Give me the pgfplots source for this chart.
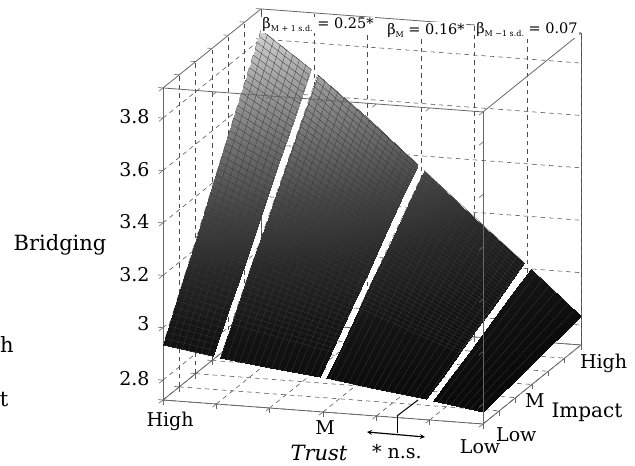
\documentclass[border=0pt]{standalone}
\usepackage{pgfplots}
\pgfplotsset{compat=1.18}
\usepackage{fontspec}
\setmainfont{DejaVu Serif}
\newcommand{\tl}[3]{\makebox[0pt]{\hspace{#1}\hspace{#1}\raisebox{#2}[0pt][0pt]{#3}}}
\begin{document}
\begin{tikzpicture}[x=1pt,y=1pt]
\begin{axis}[
  x={(53.33pt,-4pt)}, y={(16.33pt,13.17pt)}, z={(0pt,262pt)},
  xmin=0,xmax=6,ymin=0,ymax=6,zmin=2.724,zmax=3.915,
  3d box=complete,
  grid=major,
  grid style={dash pattern=on 4.5pt off 4pt,black!70,line width=0.55pt},
  axis line style={black!60,line width=0.8pt},
  tick style={black!60,line width=0.6pt},
  major tick length=5pt,
  tick align=outside,
  tick pos=left,
  xtick={0,1,2,3,4,5,6},
  ytick={0,1,2,3,4,5,6},
  ztick={2.8,3,3.2,3.4,3.6,3.8},
  zticklabels={2.8,3,3.2,3.4,3.6,3.8},
  xticklabels={\tl{11pt}{-23pt}{High},,,\tl{6pt}{-19pt}{M},,,\tl{1pt}{-26pt}{Low}},
  yticklabels={,\tl{12pt}{-30pt}{Low},,\tl{-2pt}{-23pt}{M},,\tl{34pt}{-10pt}{High},},
  tick label style={font=\fontsize{19}{21}\selectfont},
  x tick label style={anchor=center},
  y tick label style={anchor=center},
  z tick label style={yshift=10pt,xshift=-6pt},
  /pgf/number format/assume math mode=true,
  clip=false,
  colormap={g}{gray(0cm)=(0.04); gray(1cm)=(0.08); gray(2cm)=(0.16); gray(3cm)=(0.28); gray(4cm)=(0.44); gray(5cm)=(0.63); gray(6cm)=(0.85)},
  point meta min=2.8, point meta max=3.85,
]
\addplot3[surf,shader=interp,mesh/rows=7,mesh/cols=2] table {
0 0 2.934
0.94 0 2.905
0 1 3.084
0.94 1 3.037
0 2 3.234
0.94 2 3.170
0 3 3.385
0.94 3 3.302
0 4 3.535
0.94 4 3.434
0 5 3.685
0.94 5 3.567
0 6 3.835
0.94 6 3.699
};
\addplot3[surf,shader=interp,mesh/rows=7,mesh/cols=3] table {
1.06 0 2.901
2 0 2.878
2.94 0 2.855
1.06 1 3.031
2 1 2.987
2.94 1 2.940
1.06 2 3.161
2 2 3.095
2.94 2 3.025
1.06 3 3.291
2 3 3.204
2.94 3 3.111
1.06 4 3.420
2 4 3.313
2.94 4 3.196
1.06 5 3.550
2 5 3.421
2.94 5 3.281
1.06 6 3.680
2 6 3.530
2.94 6 3.366
};
\addplot3[surf,shader=interp,mesh/rows=7,mesh/cols=3] table {
3.06 0 2.853
4 0 2.827
4.94 0 2.802
3.06 1 2.935
4 1 2.886
4.94 1 2.838
3.06 2 3.017
4 2 2.945
4.94 2 2.875
3.06 3 3.099
4 3 3.004
4.94 3 2.911
3.06 4 3.181
4 4 3.062
4.94 4 2.947
3.06 5 3.263
4 5 3.121
4.94 5 2.984
3.06 6 3.345
4 6 3.180
4.94 6 3.020
};
\addplot3[surf,shader=interp,mesh/rows=7,mesh/cols=2] table {
5.06 0 2.798
6 0 2.770
5.06 1 2.832
6 1 2.781
5.06 2 2.865
6 2 2.792
5.06 3 2.899
6 3 2.803
5.06 4 2.932
6 4 2.813
5.06 5 2.966
6 5 2.824
5.06 6 2.999
6 6 2.835
};
% mesh lines, patch 1, along Trust
\addplot3[no marks,black!78,line width=0.3pt] table {
0 0 2.934
0.94 0 2.905
0.94 0.12 2.921
0 0.12 2.952
0 0.24 2.970
0.94 0.24 2.937
0.94 0.36 2.953
0 0.36 2.988
0 0.48 3.006
0.94 0.48 2.969
0.94 0.60 2.984
0 0.60 3.024
0 0.72 3.042
0.94 0.72 3.000
0.94 0.84 3.016
0 0.84 3.060
0 0.96 3.078
0.94 0.96 3.032
0.94 1.08 3.048
0 1.08 3.096
0 1.20 3.114
0.94 1.20 3.064
0.94 1.32 3.080
0 1.32 3.132
0 1.44 3.150
0.94 1.44 3.096
0.94 1.56 3.111
0 1.56 3.168
0 1.68 3.186
0.94 1.68 3.127
0.94 1.80 3.143
0 1.80 3.204
0 1.92 3.222
0.94 1.92 3.159
0.94 2.04 3.175
0 2.04 3.240
0 2.16 3.258
0.94 2.16 3.191
0.94 2.28 3.207
0 2.28 3.276
0 2.40 3.294
0.94 2.40 3.223
0.94 2.52 3.238
0 2.52 3.312
0 2.64 3.330
0.94 2.64 3.254
0.94 2.76 3.270
0 2.76 3.348
0 2.88 3.366
0.94 2.88 3.286
0.94 3.00 3.302
0 3.00 3.385
0 3.12 3.403
0.94 3.12 3.318
0.94 3.24 3.334
0 3.24 3.421
0 3.36 3.439
0.94 3.36 3.350
0.94 3.48 3.366
0 3.48 3.457
0 3.60 3.475
0.94 3.60 3.381
0.94 3.72 3.397
0 3.72 3.493
0 3.84 3.511
0.94 3.84 3.413
0.94 3.96 3.429
0 3.96 3.529
0 4.08 3.547
0.94 4.08 3.445
0.94 4.20 3.461
0 4.20 3.565
0 4.32 3.583
0.94 4.32 3.477
0.94 4.44 3.493
0 4.44 3.601
0 4.56 3.619
0.94 4.56 3.508
0.94 4.68 3.524
0 4.68 3.637
0 4.80 3.655
0.94 4.80 3.540
0.94 4.92 3.556
0 4.92 3.673
0 5.04 3.691
0.94 5.04 3.572
0.94 5.16 3.588
0 5.16 3.709
0 5.28 3.727
0.94 5.28 3.604
0.94 5.40 3.620
0 5.40 3.745
0 5.52 3.763
0.94 5.52 3.635
0.94 5.64 3.651
0 5.64 3.781
0 5.76 3.799
0.94 5.76 3.667
0.94 5.88 3.683
0 5.88 3.817
0 6 3.835
0.94 6 3.699
};
% mesh lines, patch 2, along Trust
\addplot3[no marks,black!78,line width=0.3pt] table {
1.06 0.72 2.994
2.94 0.72 2.916
2.94 0.84 2.927
1.06 0.84 3.010
1.06 0.96 3.026
2.94 0.96 2.937
2.94 1.08 2.947
1.06 1.08 3.041
1.06 1.20 3.057
2.94 1.20 2.957
2.94 1.32 2.967
1.06 1.32 3.072
1.06 1.44 3.088
2.94 1.44 2.978
2.94 1.56 2.988
1.06 1.56 3.104
1.06 1.68 3.119
2.94 1.68 2.998
2.94 1.80 3.008
1.06 1.80 3.135
1.06 1.92 3.150
2.94 1.92 3.019
2.94 2.04 3.029
1.06 2.04 3.166
1.06 2.16 3.181
2.94 2.16 3.039
2.94 2.28 3.049
1.06 2.28 3.197
1.06 2.40 3.213
2.94 2.40 3.059
2.94 2.52 3.070
1.06 2.52 3.228
1.06 2.64 3.244
2.94 2.64 3.080
2.94 2.76 3.090
1.06 2.76 3.259
1.06 2.88 3.275
2.94 2.88 3.100
2.94 3.00 3.111
1.06 3.00 3.291
1.06 3.12 3.306
2.94 3.12 3.121
2.94 3.24 3.131
1.06 3.24 3.322
1.06 3.36 3.337
2.94 3.36 3.141
2.94 3.48 3.151
1.06 3.48 3.353
1.06 3.60 3.368
2.94 3.60 3.162
2.94 3.72 3.172
1.06 3.72 3.384
1.06 3.84 3.400
2.94 3.84 3.182
2.94 3.96 3.192
1.06 3.96 3.415
1.06 4.08 3.431
2.94 4.08 3.202
2.94 4.20 3.213
1.06 4.20 3.446
1.06 4.32 3.462
2.94 4.32 3.223
2.94 4.44 3.233
1.06 4.44 3.477
1.06 4.56 3.493
2.94 4.56 3.243
2.94 4.68 3.254
1.06 4.68 3.509
1.06 4.80 3.524
2.94 4.80 3.264
2.94 4.92 3.274
1.06 4.92 3.540
1.06 5.04 3.555
2.94 5.04 3.284
2.94 5.16 3.294
1.06 5.16 3.571
1.06 5.28 3.587
2.94 5.28 3.305
2.94 5.40 3.315
1.06 5.40 3.602
1.06 5.52 3.618
2.94 5.52 3.325
2.94 5.64 3.335
1.06 5.64 3.633
1.06 5.76 3.649
2.94 5.76 3.346
2.94 5.88 3.356
1.06 5.88 3.664
1.06 6 3.680
2.94 6 3.366
};
% mesh lines, patch 3, along Trust
\addplot3[no marks,black!78,line width=0.3pt] table {
3.06 2.04 3.020
4.94 2.04 2.876
4.94 2.16 2.880
3.06 2.16 3.030
3.06 2.28 3.040
4.94 2.28 2.885
4.94 2.40 2.889
3.06 2.40 3.050
3.06 2.52 3.060
4.94 2.52 2.894
4.94 2.64 2.898
3.06 2.64 3.069
3.06 2.76 3.079
4.94 2.76 2.902
4.94 2.88 2.907
3.06 2.88 3.089
3.06 3.00 3.099
4.94 3.00 2.911
4.94 3.12 2.915
3.06 3.12 3.109
3.06 3.24 3.119
4.94 3.24 2.920
4.94 3.36 2.924
3.06 3.36 3.129
3.06 3.48 3.138
4.94 3.48 2.928
4.94 3.60 2.933
3.06 3.60 3.148
3.06 3.72 3.158
4.94 3.72 2.937
4.94 3.84 2.942
3.06 3.84 3.168
3.06 3.96 3.178
4.94 3.96 2.946
4.94 4.08 2.950
3.06 4.08 3.188
3.06 4.20 3.197
4.94 4.20 2.955
4.94 4.32 2.959
3.06 4.32 3.207
3.06 4.44 3.217
4.94 4.44 2.963
4.94 4.56 2.968
3.06 4.56 3.227
3.06 4.68 3.237
4.94 4.68 2.972
4.94 4.80 2.976
3.06 4.80 3.247
3.06 4.92 3.256
4.94 4.92 2.981
4.94 5.04 2.985
3.06 5.04 3.266
3.06 5.16 3.276
4.94 5.16 2.989
4.94 5.28 2.994
3.06 5.28 3.286
3.06 5.40 3.296
4.94 5.40 2.998
4.94 5.52 3.003
3.06 5.52 3.306
3.06 5.64 3.316
4.94 5.64 3.007
4.94 5.76 3.011
3.06 5.76 3.325
3.06 5.88 3.335
4.94 5.88 3.016
4.94 6 3.020
3.06 6 3.345
};
% mesh lines along Impact
\addplot3[no marks,black!78,line width=0.3pt] table {
0.12 0 2.930
0.12 6 3.818
0.24 6 3.800
0.24 0 2.927
0.36 0 2.923
0.36 6 3.783
0.48 6 3.765
0.48 0 2.919
0.60 0 2.915
0.60 6 3.748
0.72 6 3.731
0.72 0 2.912
0.84 0 2.908
0.84 6 3.713
};
\addplot3[no marks,black!78,line width=0.3pt] table {
1.08 0 2.901
1.08 6 3.677
1.20 6 3.658
1.20 0 2.898
1.32 0 2.895
1.32 6 3.639
1.44 6 3.620
1.44 0 2.892
1.56 0 2.889
1.56 6 3.600
1.68 6 3.581
1.68 0 2.885
1.80 0 2.882
1.80 6 3.562
1.92 6 3.543
1.92 0 2.879
2.04 0 2.877
2.04 6 3.523
2.16 6 3.502
2.16 0 2.874
2.28 0 2.871
2.28 6 3.481
2.40 6 3.460
2.40 0 2.868
2.52 0 2.866
2.52 6 3.439
2.64 6 3.418
2.64 0 2.863
2.76 0 2.860
2.76 6 3.397
2.88 6 3.376
2.88 0 2.857
};
\addplot3[no marks,black!78,line width=0.3pt] table {
3.12 0 2.851
3.12 6 3.334
3.24 6 3.313
3.24 0 2.848
3.36 0 2.844
3.36 6 3.292
3.48 6 3.271
3.48 0 2.841
3.60 0 2.838
3.60 6 3.250
3.72 6 3.229
3.72 0 2.835
3.84 0 2.831
3.84 6 3.208
3.96 6 3.187
3.96 0 2.828
4.08 0 2.825
4.08 6 3.166
4.20 6 3.146
4.20 0 2.822
4.32 0 2.818
4.32 6 3.126
4.44 6 3.105
4.44 0 2.815
4.56 0 2.812
4.56 6 3.085
4.68 6 3.064
4.68 0 2.809
4.80 0 2.805
4.80 6 3.044
4.92 6 3.024
4.92 0 2.802
};
\addplot3[no marks,black!78,line width=0.3pt] table {
5.16 0 2.795
5.16 6 2.982
5.28 6 2.961
5.28 0 2.792
5.40 0 2.788
5.40 6 2.940
5.52 6 2.919
5.52 0 2.784
5.64 0 2.781
5.64 6 2.898
5.76 6 2.877
5.76 0 2.777
5.88 0 2.774
5.88 6 2.856
};
\coordinate (A) at (axis cs:0,0,2.724);
\end{axis}
\begin{scope}[shift={(A)},shift={(-163pt,-66pt)}]
\useasboundingbox (0,0) rectangle (635,466);
\tikzset{lab/.style={font=\fontsize{21}{23}\selectfont,inner sep=0pt}}
\node[lab] at (60,221) {Bridging};
\node[lab,font=\fontsize{20}{22}\selectfont] at (587,54) {Impact};
\node[lab,font=\fontsize{21}{23}\selectfont\itshape] at (319,13) {Trust};
\node[lab,font=\fontsize{19}{21}\selectfont] at (397,14) {* n.s.};
\node[lab] at (7,121) {h};
\node[lab] at (4,66) {t};
\draw[black,line width=1pt] (397,50)--(418,66);
\draw[black,line width=1pt] (397,50)--(397,33);
\draw[black,line width=1.2pt,<->,>=stealth] (367,34)--(425,29);
\node[font=\fontsize{14.5}{17}\selectfont,fill=white,inner sep=1pt] at (318,441) {β\raisebox{-3pt}{\fontsize{8}{9}\selectfont M + 1 s.d.} = 0.25*};
\node[font=\fontsize{14.5}{17}\selectfont,fill=white,inner sep=1pt] at (426,436) {β\raisebox{-3pt}{\fontsize{8}{9}\selectfont M} = 0.16*};
\node[font=\fontsize{14.5}{17}\selectfont,fill=white,inner sep=1pt] at (527,436) {β\raisebox{-3pt}{\fontsize{8}{9}\selectfont M −1 s.d.} = 0.07};
\end{scope}
\end{tikzpicture}
\end{document}
